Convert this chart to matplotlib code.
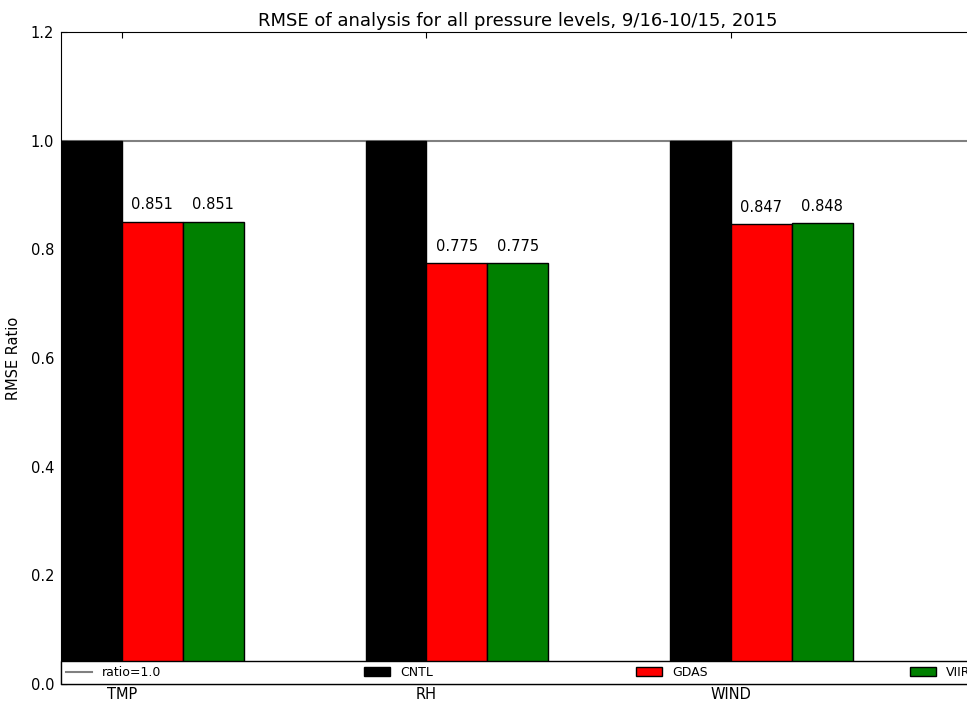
import numpy as np
import matplotlib
matplotlib.use('Agg')
import matplotlib.pyplot as plt

# values
categories = ['TMP', 'RH', 'WIND']
cntl = [1.0, 1.0, 1.0]
gdas = [0.851, 0.775, 0.847]
viirs = [0.851, 0.775, 0.848]
exp_names = ['CNTL', 'GDAS', 'VIIRS']

W, H = 967, 702
fig = plt.figure(figsize=(W / 100, H / 100), dpi=100)
# axes runs past the right edge of the picture, as in the reference
ax = fig.add_axes([61 / W, (H - 684) / H, 913.5 / W, 652 / H])

ind = np.arange(len(categories))
width = 0.2

ref = ax.axhline(1.0, color='gray', lw=1.5, label='ratio=1.0', zorder=1)
b1 = ax.bar(ind, cntl, width, align='edge', color='black', edgecolor='black', lw=1, label=exp_names[0], zorder=2)
b2 = ax.bar(ind + width, gdas, width, align='edge', color='red', edgecolor='black', lw=1, label=exp_names[1], zorder=2)
b3 = ax.bar(ind + 2 * width, viirs, width, align='edge', color='green', edgecolor='black', lw=1, label=exp_names[2], zorder=2)

for bars in (b2, b3):
    for rect in bars:
        h = rect.get_height()
        ax.text(rect.get_x() + rect.get_width() / 2., 1.02 * h, '%.3f' % h,
                ha='center', va='bottom', fontsize=10.5)

ax.set_xlim(0, 3)
ax.set_ylim(0, 1.2)
ax.set_yticks(np.arange(0, 1.21, 0.2))
ax.set_xticks(ind + width)
ax.set_xticklabels(categories)
ax.tick_params(direction='in', top=True, right=True, length=4, labelsize=10.5, pad=5)
ax.tick_params(axis='x', pad=2.5)
ax.set_ylabel('RMSE Ratio', fontsize=10.5, labelpad=7)
ax.set_title('RMSE of analysis for all pressure levels, 9/16-10/15, 2015', fontsize=13, pad=4)

leg = ax.legend(handles=[ref, b1, b2, b3], loc='lower left', ncol=4, mode='expand',
                bbox_to_anchor=(0, 0, 1.010, 1), borderaxespad=0, fontsize=9,
                fancybox=False, framealpha=1, handlelength=2.1)
leg.get_frame().set_edgecolor('black')

fig.savefig('out.png', dpi=100)
